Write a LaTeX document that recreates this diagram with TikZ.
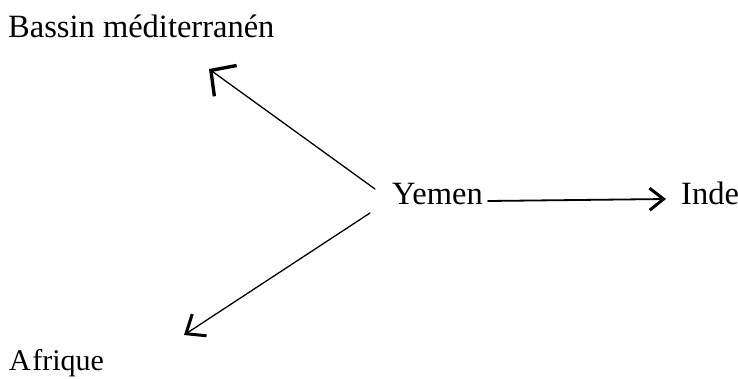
\documentclass[tikz,border=0pt]{standalone}
\usepackage{fontspec}
\setmainfont{Liberation Serif}
\usetikzlibrary{arrows.meta}
\tikzset{
  lbl/.style={inner sep=0pt, anchor=base west, font=\fontsize{32.5}{38}\selectfont},
  shaft/.style={line width=1.3pt, line cap=round},
}
\begin{document}
\begin{tikzpicture}[x=1pt,y=-1pt]
\useasboundingbox (0,0) rectangle (738,378);
\node[lbl] (bassin) at (8,37) {Bassin méditerranén};
\node[lbl] (yemen) at (392,204) {Yemen};
\node[lbl] (inde) at (681,204) {Inde};
\node[lbl, font=\fontsize{30}{35}\selectfont] (afrique) at (9,370) {A\kern1.5pt frique};
\coordinate (yb) at (375,189);
\coordinate (tb) at (209,69);
\coordinate (ya) at (370,213);
\coordinate (ta) at (184,335);
\coordinate (yi) at (488,201);
\coordinate (ti) at (666,199);
\draw[shaft, -{Straight Barb[length=18pt,width=38pt,line width=3.4pt]}] (yb) -- (tb);
\draw[shaft, -{Straight Barb[length=16pt,width=26pt,line width=3pt]}] (ya) -- (ta);
\draw[shaft, line width=1.8pt, -{Straight Barb[length=14pt,width=22pt,line width=3pt]}] (yi) -- (ti);
\end{tikzpicture}
\end{document}
